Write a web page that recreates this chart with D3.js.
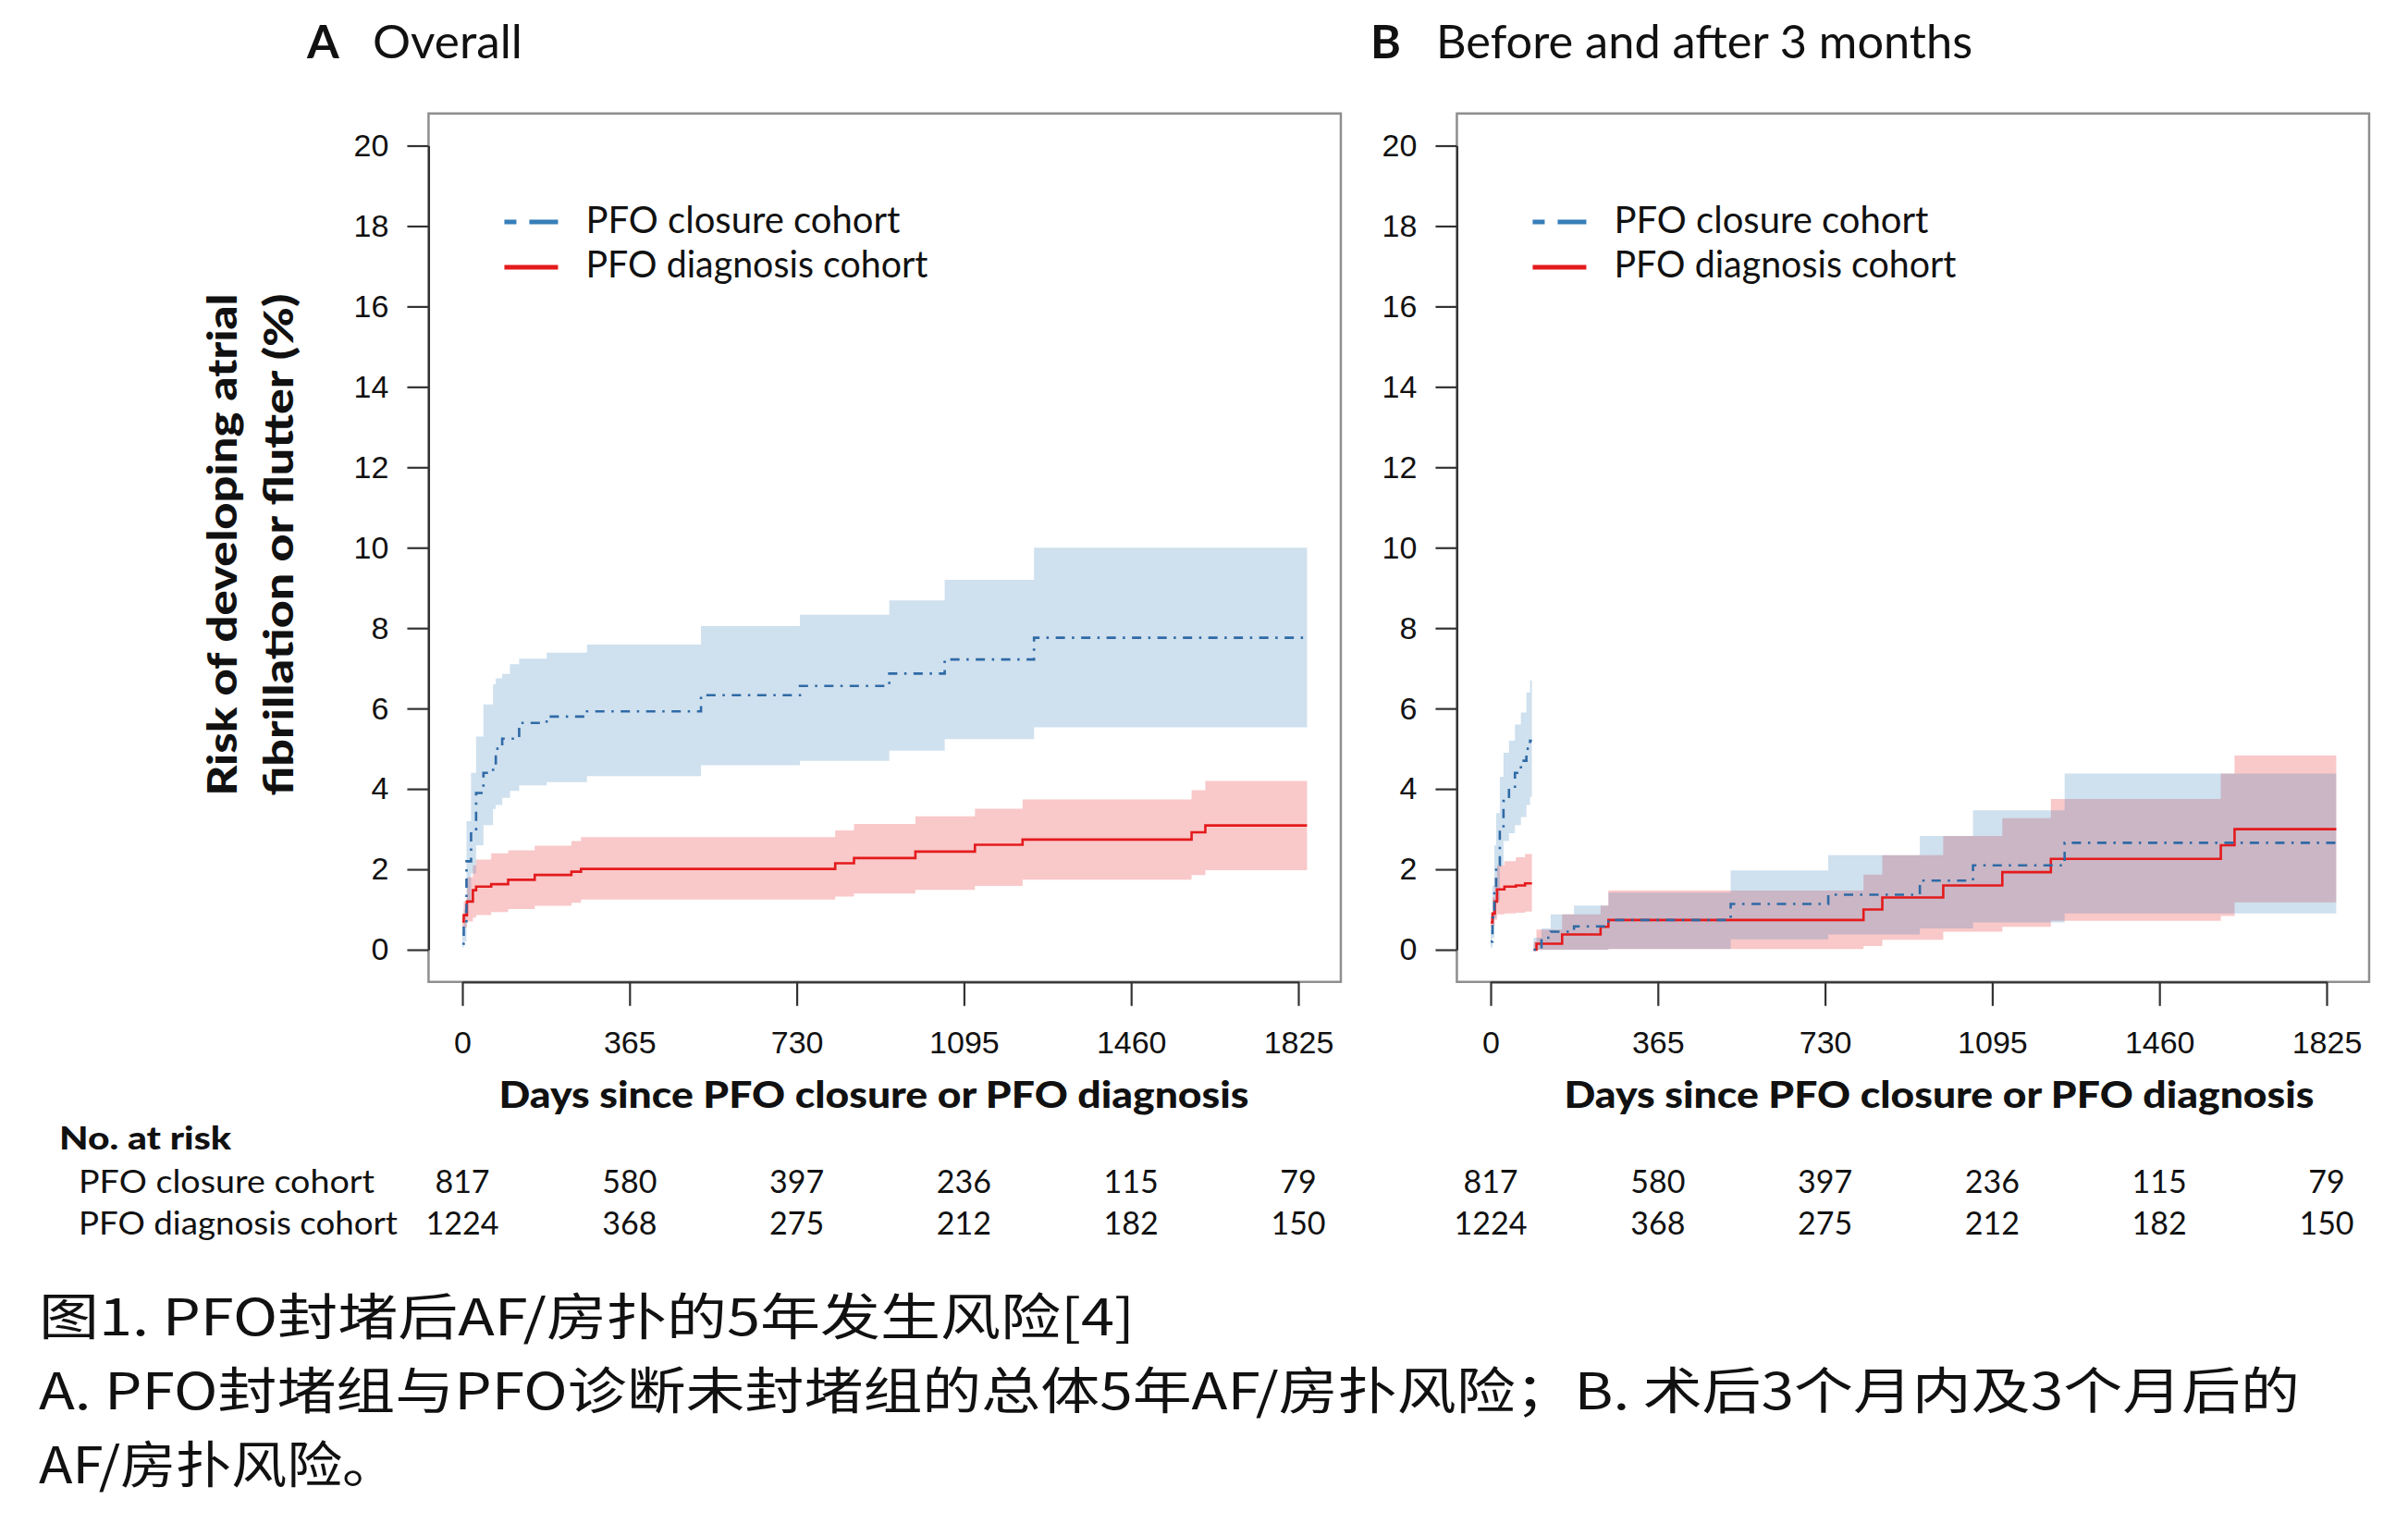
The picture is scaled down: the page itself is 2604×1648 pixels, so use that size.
<!DOCTYPE html>
<html>
<head>
<meta charset="utf-8">
<script src="https://cdn.jsdelivr.net/npm/d3@7"></script>
<style>
  body { margin: 0; background: #fff; }
  text { font-family: Lato, "Open Sans", sans-serif; fill: #111; }
</style>
</head>
<body>
<div id="plot"></div>
<script>
const tickDays = [0, 365, 730, 1095, 1460, 1825];
const tickRisk = [0, 2, 4, 6, 8, 10, 12, 14, 16, 18, 20];
const cohortNames = ["PFO closure cohort", "PFO diagnosis cohort"];
const atRiskClosure = [817, 580, 397, 236, 115, 79];
const atRiskDiagnosis = [1224, 368, 275, 212, 182, 150];

// A: overall, closure cohort
const aClosureDay = [0, 3, 9, 19, 30, 46, 67, 73, 87, 104, 124, 184, 272, 521, 737, 932, 1053, 1248, 1844];
const aClosureEst = [0.15, 0.6, 2.2, 3.0, 3.9, 4.4, 4.6, 5.0, 5.25, 5.25, 5.64, 5.8, 5.93, 6.33, 6.56, 6.87, 7.22, 7.76, 7.76];
const aClosureLo = [0.05, 0.2, 1.2, 1.9, 2.6, 3.1, 3.5, 3.6, 3.78, 3.95, 4.09, 4.17, 4.32, 4.59, 4.7, 4.95, 5.24, 5.53, 5.53];
const aClosureHi = [0.4, 1.0, 3.2, 4.4, 5.3, 6.1, 6.6, 6.75, 6.86, 7.1, 7.24, 7.39, 7.59, 8.05, 8.33, 8.69, 9.2, 10.0, 10.0];

// A: overall, diagnosis cohort
const aDiagDay = [0, 3, 10, 23, 30, 63, 100, 158, 238, 259, 814, 855, 989, 1119, 1223, 1592, 1622, 1844];
const aDiagEst = [0.7, 0.86, 1.2, 1.48, 1.57, 1.63, 1.74, 1.86, 1.94, 2.01, 2.15, 2.28, 2.44, 2.61, 2.74, 2.92, 3.09, 3.09];
const aDiagLo = [0.55, 0.55, 0.7, 0.8, 0.86, 0.94, 1.01, 1.09, 1.17, 1.25, 1.32, 1.4, 1.49, 1.59, 1.74, 1.86, 1.98, 1.98];
const aDiagHi = [0.85, 1.2, 1.8, 2.1, 2.24, 2.4, 2.47, 2.59, 2.7, 2.8, 2.97, 3.13, 3.32, 3.51, 3.74, 3.97, 4.2, 4.2];

// B: first 3 months
const bClosureEarlyDay = [0, 4, 8, 12, 20, 28, 40, 53, 66, 78, 86, 90];
const bClosureEarlyEst = [0.2, 0.8, 1.5, 2.1, 3.0, 3.7, 4.0, 4.4, 4.7, 5.0, 5.2, 5.2];
const bClosureEarlyLo = [0.05, 0.3, 0.8, 1.2, 2.1, 2.7, 2.9, 3.1, 3.3, 3.6, 3.8, 3.8];
const bClosureEarlyHi = [0.5, 1.6, 2.6, 3.4, 4.3, 4.9, 5.2, 5.6, 5.9, 6.4, 6.7, 6.7];

const bDiagEarlyDay = [0, 4, 9, 14, 30, 55, 75, 90];
const bDiagEarlyEst = [0.68, 0.9, 1.2, 1.5, 1.57, 1.6, 1.65, 1.65];
const bDiagEarlyLo = [0.55, 0.6, 0.75, 0.88, 0.9, 0.92, 0.95, 0.95];
const bDiagEarlyHi = [0.8, 1.3, 1.8, 2.1, 2.2, 2.3, 2.38, 2.38];

// B: after 3 months
const bClosureLateDay = [94, 111, 131, 182, 257, 524, 737, 937, 1053, 1253, 1846];
const bClosureLateEst = [0, 0.3, 0.45, 0.58, 0.74, 1.14, 1.37, 1.72, 2.1, 2.66, 2.66];
const bClosureLateLo = [0, 0, 0, 0, 0.02, 0.26, 0.38, 0.53, 0.68, 0.9, 0.9];
const bClosureLateHi = [0.3, 0.53, 0.88, 1.1, 1.42, 1.97, 2.35, 2.83, 3.47, 4.38, 4.38];

const bDiagLateDay = [94, 100, 156, 240, 257, 814, 855, 988, 1117, 1223, 1594, 1624, 1846];
const bDiagLateEst = [0, 0.15, 0.38, 0.57, 0.74, 1.0, 1.3, 1.6, 1.93, 2.26, 2.6, 3.0, 3.0];
const bDiagLateLo = [0, 0, 0, 0, 0.02, 0.09, 0.25, 0.45, 0.57, 0.72, 0.84, 1.18, 1.18];
const bDiagLateHi = [0.2, 0.5, 0.88, 1.1, 1.47, 1.87, 2.35, 2.83, 3.27, 3.75, 4.38, 4.83, 4.83];

const captionLines = [
  "图1. PFO封堵后AF/房扑的5年发生风险[4]",
  "A. PFO封堵组与PFO诊断未封堵组的总体5年AF/房扑风险；B. 术后3个月内及3个月后的",
  "AF/房扑风险。"
];

const blue = "#377eb8", red = "#e41a1c";

function zip(day, est, lo, hi) {
  return day.map((d, i) => ({ day: d, est: est[i], lo: lo[i], hi: hi[i] }));
}

const panels = [
  {
    letter: "A", title: "Overall", left: 500, titleX: 332, titleW: 162, xTitleX: 945,
    closure: [zip(aClosureDay, aClosureEst, aClosureLo, aClosureHi)],
    diagnosis: [zip(aDiagDay, aDiagEst, aDiagLo, aDiagHi)]
  },
  {
    letter: "B", title: "Before and after 3 months", left: 1612, titleX: 1482, titleW: 580, xTitleX: 2097,
    closure: [zip(bClosureEarlyDay, bClosureEarlyEst, bClosureEarlyLo, bClosureEarlyHi),
              zip(bClosureLateDay, bClosureLateEst, bClosureLateLo, bClosureLateHi)],
    diagnosis: [zip(bDiagEarlyDay, bDiagEarlyEst, bDiagEarlyLo, bDiagEarlyHi),
                zip(bDiagLateDay, bDiagLateEst, bDiagLateLo, bDiagLateHi)]
  }
];

const svg = d3.select("#plot")
  .append("svg")
  .attr("width", 2604)
  .attr("height", 1648);

svg.append("rect").attr("width", 2604).attr("height", 1648).attr("fill", "#fff");

const y = d3.scaleLinear().domain([0, 20]).range([1027, 157.5]);

panels.forEach(p => {
  const x = d3.scaleLinear().domain([0, 1825]).range([p.left, p.left + 904]);
  const g = svg.append("g");

  const boxL = x(-73.8), boxR = x(1917.8), boxT = y(20.8), boxB = y(-0.8);

  const area = d3.area()
    .curve(d3.curveStepAfter)
    .x(d => x(d.day))
    .y0(d => y(d.lo))
    .y1(d => y(d.hi));

  const line = d3.line()
    .curve(d3.curveStepAfter)
    .x(d => x(d.day))
    .y(d => y(d.est));

  // bands: red first, blue laid over it
  g.selectAll(".band-diag")
    .data(p.diagnosis)
    .enter().append("path")
    .attr("d", area)
    .attr("fill", red)
    .attr("fill-opacity", 0.24);

  g.selectAll(".band-closure")
    .data(p.closure)
    .enter().append("path")
    .attr("d", area)
    .attr("fill", blue)
    .attr("fill-opacity", 0.24);

  g.selectAll(".line-diag")
    .data(p.diagnosis)
    .enter().append("path")
    .attr("d", line)
    .attr("fill", "none")
    .attr("stroke", red)
    .attr("stroke-width", 2.6);

  g.selectAll(".line-closure")
    .data(p.closure)
    .enter().append("path")
    .attr("d", line)
    .attr("fill", "none")
    .attr("stroke", "#2f6aa6")
    .attr("stroke-width", 2.6)
    .attr("stroke-dasharray", "2.5,7.5,10,7.5");

  g.append("rect")
    .attr("x", boxL)
    .attr("y", boxT)
    .attr("width", boxR - boxL)
    .attr("height", boxB - boxT)
    .attr("fill", "none")
    .attr("stroke", "#8e8e8e")
    .attr("stroke-width", 2.5);

  const yAxis = g.append("g")
    .attr("transform", `translate(${boxL},0)`)
    .call(d3.axisLeft(y).tickValues(tickRisk).tickSize(23).tickSizeOuter(0).tickPadding(20));

  const xAxis = g.append("g")
    .attr("transform", `translate(0,${boxB})`)
    .call(d3.axisBottom(x).tickValues(tickDays).tickFormat(d3.format("d"))
      .tickSize(26).tickSizeOuter(0).tickPadding(27));

  [yAxis, xAxis].forEach(a => {
    a.attr("color", "#333");
    a.selectAll("line").attr("stroke-width", 2.2);
    a.select(".domain").attr("stroke-width", 2.2);
    a.selectAll("text")
      .style("font-family", "'Liberation Sans', Arial, sans-serif")
      .style("font-size", "34px")
      .attr("fill", "#1a1a1a");
  });

  // panel title
  g.append("text")
    .attr("x", p.titleX)
    .attr("y", 63)
    .style("font-size", "50px")
    .style("font-weight", 700)
    .text(p.letter);

  g.append("text")
    .attr("x", p.titleX + 71)
    .attr("y", 63)
    .style("font-size", "50px")
    .attr("textLength", p.titleW)
    .attr("lengthAdjust", "spacingAndGlyphs")
    .text(p.title);

  // legend
  const legend = g.append("g").attr("transform", `translate(${boxL},0)`);
  legend.append("line")
    .attr("x1", 82).attr("x2", 140).attr("y1", 240).attr("y2", 240)
    .attr("stroke", blue).attr("stroke-width", 5)
    .attr("stroke-dasharray", "13,14,31,60");
  legend.append("line")
    .attr("x1", 82).attr("x2", 140).attr("y1", 289).attr("y2", 289)
    .attr("stroke", red).attr("stroke-width", 5);
  legend.selectAll(".leg-text")
    .data(cohortNames)
    .enter().append("text")
    .attr("x", 170)
    .attr("y", (d, i) => 252 + i * 48)
    .style("font-size", "40px")
    .attr("textLength", (d, i) => i === 0 ? 340 : 370)
    .attr("lengthAdjust", "spacingAndGlyphs")
    .text(d => d);

  // x axis title
  g.append("text")
    .attr("x", p.xTitleX)
    .attr("y", 1198)
    .attr("text-anchor", "middle")
    .style("font-size", "40px")
    .style("font-weight", 900)
    .attr("textLength", 811)
    .attr("lengthAdjust", "spacingAndGlyphs")
    .text("Days since PFO closure or PFO diagnosis");

  // numbers at risk
  [atRiskClosure, atRiskDiagnosis].forEach((row, r) => {
    g.selectAll(".risk" + r)
      .data(row)
      .enter().append("text")
      .attr("x", (d, i) => x(tickDays[i]))
      .attr("y", 1290 + r * 45)
      .attr("text-anchor", "middle")
      .style("font-size", "34px")
      .text(d => d);
  });
});

// y axis title, two lines
const yTitle = ["Risk of developing atrial", "fibrillation or flutter (%)"];
svg.selectAll(".ytitle")
  .data(yTitle)
  .enter().append("text")
  .attr("transform", (d, i) => `translate(${256 + i * 61},589) rotate(-90)`)
  .attr("text-anchor", "middle")
  .style("font-size", "44px")
  .style("font-weight", 900)
  .attr("textLength", 543)
  .attr("lengthAdjust", "spacingAndGlyphs")
  .text(d => d);

svg.append("text")
  .attr("x", 64)
  .attr("y", 1243)
  .style("font-size", "34px")
  .style("font-weight", 900)
  .attr("textLength", 186)
  .attr("lengthAdjust", "spacingAndGlyphs")
  .text("No. at risk");

svg.selectAll(".risk-label")
  .data(cohortNames)
  .enter().append("text")
  .attr("x", 85)
  .attr("y", (d, i) => 1290 + i * 45)
  .style("font-size", "34px")
  .attr("textLength", (d, i) => i === 0 ? 320 : 345)
  .attr("lengthAdjust", "spacingAndGlyphs")
  .text(d => d);

// caption
const captionY = [1444, 1524, 1604];
svg.selectAll(".caption")
  .data(captionLines)
  .enter().append("text")
  .attr("x", 42)
  .attr("y", (d, i) => captionY[i])
  .style("font-family", "'Noto Sans CJK SC', sans-serif")
  .style("font-size", "54px")
  .attr("fill", "#000")
  .each(function(d, i) {
    d3.select(this)
      .attr("textLength", [1185, 2445, 388][i])
      .attr("lengthAdjust", "spacingAndGlyphs");
  })
  .text(d => d);
</script>
</body>
</html>
